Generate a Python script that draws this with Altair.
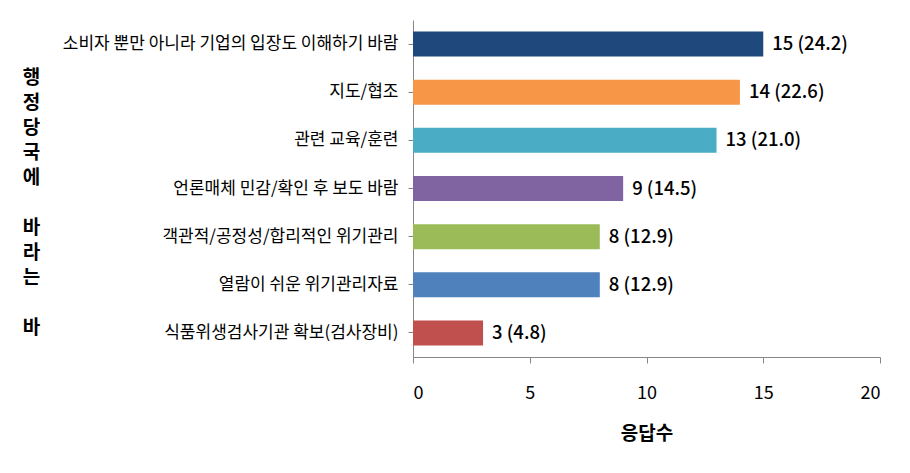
import altair as alt
import pandas as pd

categories = [
    "소비자 뿐만 아니라 기업의 입장도 이해하기 바람",
    "지도/협조",
    "관련 교육/훈련",
    "언론매체 민감/확인 후 보도 바람",
    "객관적/공정성/합리적인 위기관리",
    "열람이 쉬운 위기관리자료 ",
    "식품위생검사기관 확보(검사장비)",
]
counts = [15, 14, 13, 9, 8, 8, 3]
percents = ["24.2", "22.6", "21.0", "14.5", "12.9", "12.9", "4.8"]
colors = ["#1F497D", "#F79646", "#4BACC6", "#8064A2", "#9BBB59", "#4F81BD", "#C0504D"]
x_ticks = [0, 5, 10, 15, 20]
y_title = ["행", "정", "당", "국", "에", "\u2800", "바", "라", "는", "\u2800", "바"]
x_title = "응답수"

df = pd.DataFrame({
    "cat": categories,
    "count": counts,
    "label": [f"{c} ({p})" for c, p in zip(counts, percents)],
})

FONT = "Noto Sans CJK KR"

y_enc = alt.Y(
    "cat:N",
    sort=categories,
    scale=alt.Scale(paddingInner=0.48, paddingOuter=0.24),
    axis=alt.Axis(
        title=y_title,
        titleAngle=0,
        titleAlign="center",
        titleBaseline="middle",
        titleX=-382,
        titleY=57,
        titleFont=FONT,
        titleFontSize=19,
        titleFontWeight="bold",
        titleLineHeight=25,
        titleColor="#000000",
        labelFont=FONT,
        labelFontSize=17,
        labelColor="#000000",
        labelLimit=500,
        labelPadding=10,
        tickSize=5,
        tickColor="#868686",
        domainColor="#868686",
        ticks=True,
        grid=False,
    ),
)

bars = alt.Chart(df).mark_bar().encode(
    x=alt.X(
        "count:Q",
        scale=alt.Scale(domain=[0, 20], nice=False),
        axis=alt.Axis(
            values=x_ticks,
            title=x_title,
            titleFont=FONT,
            titleFontSize=19,
            titleFontWeight="bold",
            titleColor="#000000",
            titlePadding=22,
            labelFont=FONT,
            labelFontSize=18,
            labelColor="#000000",
            labelPadding=21,
            tickSize=6,
            tickColor="#868686",
            domainColor="#868686",
            grid=False,
        ),
    ),
    y=y_enc,
    color=alt.Color("cat:N", scale=alt.Scale(domain=categories, range=colors), legend=None),
)

text = alt.Chart(df).mark_text(
    align="left", baseline="middle", dx=9, font=FONT, fontSize=18.5, fontWeight=500, color="#000000"
).encode(
    x="count:Q",
    y=alt.Y("cat:N", sort=categories),
    text="label:N",
)

chart = (bars + text).properties(
    width=467,
    height=337,
    padding={"left": 413, "top": 20, "right": 30, "bottom": 116},
    autosize=alt.AutoSizeParams(type="none"),
).configure(background="#ffffff").configure_view(stroke=None)

chart.save("out.html", embed_options={"renderer": "svg", "actions": False})
